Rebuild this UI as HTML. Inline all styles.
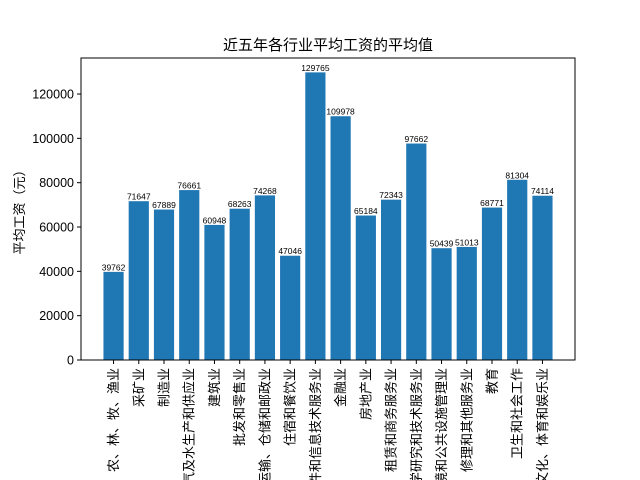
<!DOCTYPE html>
<html><head><meta charset="utf-8"><style>
html,body{margin:0;background:#fff;width:640px;height:480px;overflow:hidden}
svg{display:block;overflow:hidden;font-family:"Liberation Sans","WenQuanYi Zen Hei","Noto Sans CJK SC",sans-serif}
</style></head><body>
<svg id="chart" width="640" height="480" viewBox="0 0 640 480">
<text x="328" y="50" text-anchor="middle" font-size="15">近五年各行业平均工资的平均值</text>
<text transform="translate(24,209) rotate(-90)" text-anchor="middle" font-size="13">平均工资（元）</text>
<g id="bars"></g><g id="yaxis"></g><g id="xaxis"></g>
<rect x="81" y="58" width="494" height="302" fill="none" stroke="#000" stroke-width="1"/>
</svg>
<script>
const categories=["农、林、牧、渔业","采矿业","制造业","电力、热力、燃气及水生产和供应业","建筑业","批发和零售业","交通运输、仓储和邮政业","住宿和餐饮业","信息传输、软件和信息技术服务业","金融业","房地产业","租赁和商务服务业","科学研究和技术服务业","水利、环境和公共设施管理业","居民服务、修理和其他服务业","教育","卫生和社会工作","文化、体育和娱乐业"];
const values=[39762,71647,67889,76661,60948,68263,74268,47046,129765,109978,65184,72343,97662,50439,51013,68771,81304,74114];
const yTicks=[0,20000,40000,60000,80000,100000,120000];
const NS="http://www.w3.org/2000/svg";
const L=81,R=575,T=58,B=360;
const ymax=Math.max(...values)*1.05;
const y=v=>B-(v/ymax)*(B-T);
const n=values.length,lo=-0.4-0.05*(n-1+0.8),hi=n-1+0.4+0.05*(n-1+0.8);
const x=i=>L+(i-lo)/(hi-lo)*(R-L);
const bw=0.8*(R-L)/(hi-lo);
function mk(t,a,p){const e=document.createElementNS(NS,t);for(const k in a)e.setAttribute(k,a[k]);p.appendChild(e);return e;}
const gb=document.getElementById('bars'),gy=document.getElementById('yaxis'),gx=document.getElementById('xaxis');
values.forEach((v,i)=>{
 const r=mk('rect',{x:x(i)-bw/2,y:y(v),width:bw,height:B-y(v),fill:'#1f77b4'},gb);
 
 
 const t=mk('text',{x:x(i),y:y(v)-1.5,'text-anchor':'middle','font-size':'8.5'},gb);
 t.textContent=v;
 
 
 mk('line',{x1:x(i),x2:x(i),y1:B,y2:B+4,stroke:'#000'},gx);
 const l=mk('text',{transform:`translate(${x(i)+4.5},${B+8}) rotate(-90)`,'text-anchor':'end','font-size':'13'},gx);
 l.textContent=categories[i];
 
 
});
yTicks.forEach(v=>{
 mk('line',{x1:L-4,x2:L,y1:y(v),y2:y(v),stroke:'#000'},gy);
 const t=mk('text',{x:L-7,y:y(v)+4.5,'text-anchor':'end','font-size':'12.5'},gy);
 t.textContent=v;
 
 
});
</script>
</body></html>
